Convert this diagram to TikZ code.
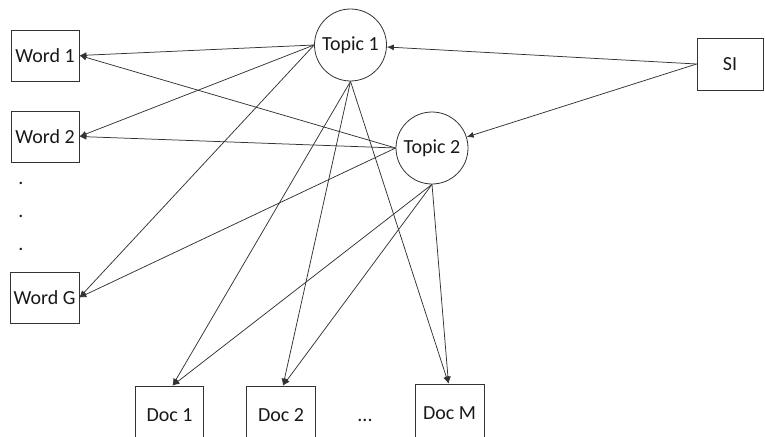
\documentclass[tikz,border=0pt]{standalone}
\usepackage{fontspec}
\setmainfont{Carlito}
\usetikzlibrary{arrows.meta}
\tikzset{
  every node/.style={font=\fontsize{20}{24}\selectfont, text=black!90},
  box/.style={draw=black!80, line width=0.8pt, inner sep=0pt, rectangle},
  topic/.style={draw=black!80, line width=0.8pt, inner sep=0pt, circle, minimum size=72pt},
  link/.style={draw=black!80, line width=0.75pt, -{Latex[length=7pt,width=6pt]}},
  dotmark/.style={inner sep=0pt}
}
\begin{document}
\begin{tikzpicture}[x=1pt,y=-1pt]
\useasboundingbox (0,0) rectangle (765,436);
\clip (0,0) rectangle (765,436);
% words
\node[box, minimum width=68pt, minimum height=51pt] (w1) at (45,55.5) {Word 1};
\node[box, minimum width=68pt, minimum height=51pt] (w2) at (45,136.5) {Word 2};
\node[box, minimum width=69pt, minimum height=51pt] (wg) at (44.5,297.5) {Word G};
\node[dotmark] (d1) at (21,183) {.};
\node[dotmark] (d2) at (21,216) {.};
\node[dotmark] (d3) at (21,249) {.};
% topics
\node[topic] (t1) at (350.5,45) {Topic 1};
\node[topic] (t2) at (432,148) {Topic 2};
% SI
\node[box, minimum width=66pt, minimum height=52pt] (si) at (730,64) {SI};
% docs
\node[box, minimum width=68pt, minimum height=58pt] (doc1) at (169.5,415) {Doc 1};
\node[box, minimum width=69pt, minimum height=58pt] (doc2) at (281,415) {Doc 2};
\node[box, minimum width=69pt, minimum height=58pt] (docm) at (449.5,413) {Doc M};
\node[dotmark] (ell) at (365,420) {...};
% connectors
\draw[link] (si.west) -- (t1);
\draw[link] (si.west) -- (t2);
\draw[link] (t1.west) -- (w1.east);
\draw[link] (t1.west) -- (w2.east);
\draw[link] (t1.west) -- (wg.east);
\draw[link] (t2.west) -- (w1.east);
\draw[link] (t2.west) -- (w2.east);
\draw[link] (t2.west) -- (wg.east);
\draw[link] (t1.south) -- ([xshift=3pt]doc1.north);
\draw[link] (t1.south) -- ([xshift=2pt]doc2.north);
\draw[link] (t1.south) -- ([xshift=-1pt]docm.north);
\draw[link] (t2.south) -- ([xshift=3pt]doc1.north);
\draw[link] (t2.south) -- ([xshift=2pt]doc2.north);
\draw[link] (t2.south) -- ([xshift=-1pt]docm.north);
\end{tikzpicture}
\end{document}
